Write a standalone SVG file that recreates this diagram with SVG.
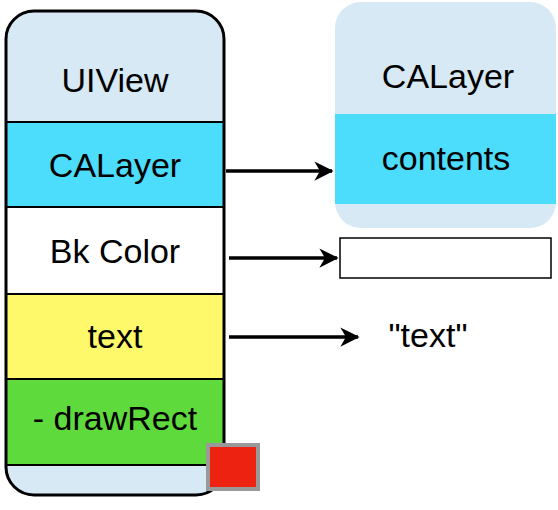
<svg xmlns="http://www.w3.org/2000/svg" width="558" height="510" viewBox="0 0 558 510">
<style>
  .t { font-family: "Liberation Sans", Arial, sans-serif; font-size: 34px; fill: #000; text-anchor: middle; }
  .div { stroke: #000; stroke-width: 2; }
  .conn { stroke: #000; stroke-width: 3.5; fill: none; }
</style>
<defs>
  <clipPath id="leftClip">
    <rect x="6" y="11" width="218" height="484" rx="28" ry="28"/>
  </clipPath>
  <marker id="arr" viewBox="0 0 12 12" refX="11" refY="6" markerWidth="5.5" markerHeight="5.5" markerUnits="strokeWidth" orient="auto">
    <path d="M0,0 L12,6 L0,12 L3.5,6 Z" fill="#000"/>
  </marker>
</defs>
<rect width="558" height="510" fill="#fff"/>

<g id="uiview">
  <g clip-path="url(#leftClip)">
    <rect x="6" y="11" width="218" height="484" fill="#d6e9f5"/>
    <rect x="6" y="122" width="218" height="85" fill="#4cdcfc"/>
    <rect x="6" y="207" width="218" height="87" fill="#ffffff"/>
    <rect x="6" y="294" width="218" height="85" fill="#fdf96a"/>
    <rect x="6" y="379" width="218" height="86" fill="#5fda3c"/>
    <line class="div" x1="6" y1="122" x2="224" y2="122"/>
    <line class="div" x1="6" y1="207" x2="224" y2="207"/>
    <line class="div" x1="6" y1="294" x2="224" y2="294"/>
    <line class="div" x1="6" y1="379" x2="224" y2="379"/>
    <line class="div" x1="6" y1="465" x2="224" y2="465"/>
  </g>
  <rect x="6" y="11" width="218" height="484" rx="28" ry="28" fill="none" stroke="#000" stroke-width="3"/>
  <text class="t" x="115" y="92">UIView</text>
  <text class="t" x="115" y="177">CALayer</text>
  <text class="t" x="115" y="263">Bk Color</text>
  <text class="t" x="115" y="348">text</text>
  <text class="t" x="115" y="430">- drawRect</text>
</g>

<g id="redsquare">
  <rect x="208" y="445" width="50" height="44" fill="#ee2210" stroke="#999999" stroke-width="4"/>
</g>

<g id="calayer">
  <rect x="335" y="2" width="221" height="226" rx="26" ry="26" fill="#d6e9f5"/>
  <rect x="335" y="114" width="221" height="90" fill="#4cdcfc"/>
  <text class="t" x="448" y="88">CALayer</text>
  <text class="t" x="446" y="170">contents</text>
</g>

<g id="bkcolor">
  <rect x="340" y="238" width="211" height="40" fill="#fff" stroke="#000" stroke-width="1.5"/>
</g>

<g id="textvalue">
  <text class="t" x="428" y="347">"text"</text>
</g>

<g id="connectors">
  <line class="conn" x1="226" y1="171" x2="332" y2="171" marker-end="url(#arr)"/>
  <line class="conn" x1="229" y1="258" x2="337" y2="258" marker-end="url(#arr)"/>
  <line class="conn" x1="229" y1="337" x2="358" y2="337" marker-end="url(#arr)"/>
</g>
</svg>
